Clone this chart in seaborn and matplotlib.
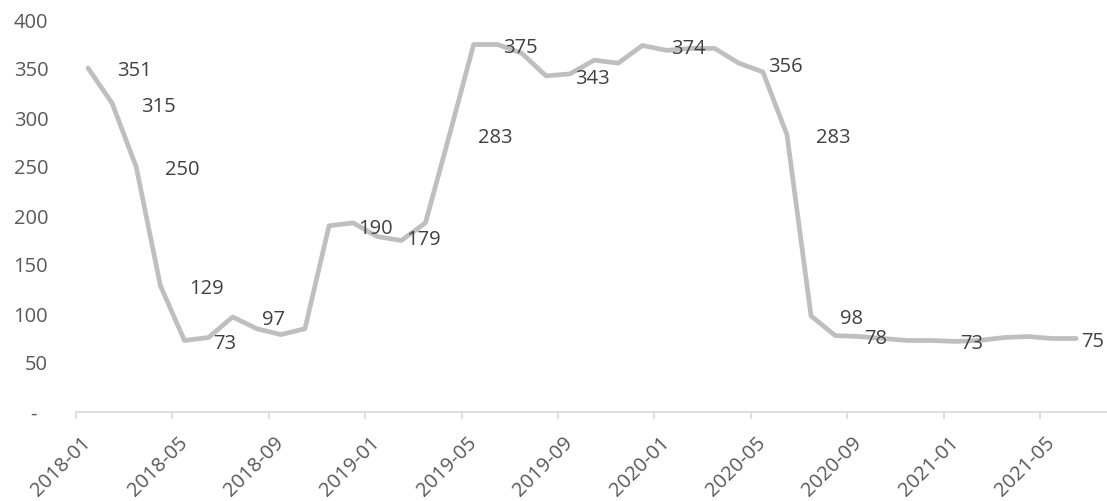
import pandas as pd
import matplotlib
matplotlib.use("Agg")
import matplotlib.pyplot as plt
import seaborn as sns

# monthly series, 2018-01 .. 2021-06
values = [351, 315, 250, 129, 73, 76, 97, 85, 79, 85,
          190, 193, 179, 175, 193, 283, 375, 375, 366, 343,
          345, 359, 356, 374, 369, 371, 371, 356, 347, 283,
          98, 78, 77, 75, 73, 73, 72, 73, 76, 77,
          75, 75]
months = [str(p) for p in pd.period_range("2018-01", periods=len(values), freq="M")]

# which points carry a data label
label_idx = [0, 1, 2, 3, 4, 6, 10, 12, 15, 16, 19, 23, 27, 29, 30, 31, 35, 40]

y_ticks = [0, 50, 100, 150, 200, 250, 300, 350, 400]
y_tick_labels = ["-  ", "50", "100", "150", "200", "250", "300", "350", "400"]

df = pd.DataFrame({"pos": range(len(values)), "month": months, "value": values})

sns.set_theme(style="white")
plt.rcParams["font.family"] = ["Open Sans", "DejaVu Sans"]

fig = plt.figure(figsize=(11.07, 5.01), dpi=100)
ax = fig.add_axes([76 / 1107, 89 / 501, 1031 / 1107, 392 / 501])

sns.lineplot(data=df, x="pos", y="value", ax=ax, color="#BFBFBF", linewidth=3.4)

# labels sit to the right of their point, left aligned
for i in label_idx:
    ax.annotate(str(values[i]), (i + 1.2, values[i]), xytext=(0, -2.5),
                textcoords="offset points", ha="left", va="center",
                fontsize=14.5, color="#404040")

ax.set_xlim(-0.5, -0.5 + 1031 / 24.1)
ax.set_ylim(0, 400)

# category labels every 4 months, tick marks on the category boundaries
major = list(range(0, len(values), 4))
ax.set_xticks(major)
ax.set_xticklabels([months[i] for i in major], rotation=45, ha="right",
                   va="center", rotation_mode="anchor",
                   fontsize=14.5, color="#595959")
ax.set_xticks([i - 0.5 for i in major], minor=True)
ax.tick_params(axis="x", which="major", length=0, pad=20)
ax.tick_params(axis="x", which="minor", length=5, width=1.2, color="#D9D9D9", bottom=True)

ax.set_yticks(y_ticks)
ax.set_yticklabels(y_tick_labels, fontsize=14.5, color="#595959")
ax.tick_params(axis="y", length=0, pad=20)

ax.set_xlabel("")
ax.set_ylabel("")
for side in ["top", "right", "left"]:
    ax.spines[side].set_visible(False)
ax.spines["bottom"].set_color("#D9D9D9")
ax.spines["bottom"].set_linewidth(1.2)
ax.grid(False)

fig.savefig("out.png", dpi=100)
